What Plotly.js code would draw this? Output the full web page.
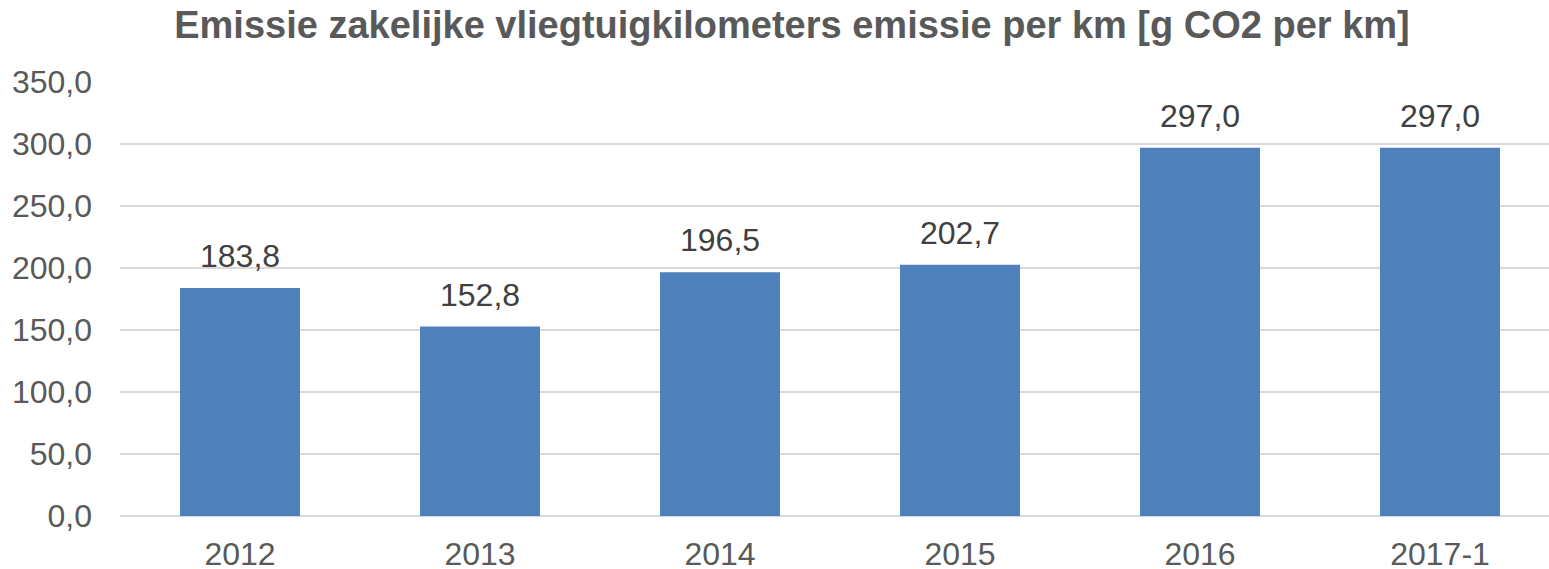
<!DOCTYPE html>
<html>
<head>
<meta charset="utf-8">
<script src="https://cdn.plot.ly/plotly-3.0.1.min.js"></script>
<style>html,body{margin:0;padding:0;background:#fff;}#chart{width:1549px;height:569px;}</style>
</head>
<body>
<div id="chart"></div>
<script>
var categories = ['2012', '2013', '2014', '2015', '2016', '2017-1'];
var values = [183.8, 152.8, 196.5, 202.7, 297.0, 297.0];
var titleText = 'Emissie zakelijke vliegtuigkilometers emissie per km [g CO2 per km]';

var fontFam = 'Liberation Sans, Arial, sans-serif';

var trace = {
  type: 'bar',
  x: categories,
  y: values,
  width: 0.5,
  marker: {color: '#4F81BD', line: {width: 0}},
  hoverinfo: 'none'
};

// category axis position = index of the category
var annotations = categories.map(function (c, i) {
  return {
    x: i, y: values[i], xref: 'x', yref: 'y',
    text: values[i].toFixed(1).replace('.', ','),
    showarrow: false, yanchor: 'bottom', yshift: 12,
    font: {family: fontFam, size: 32, color: '#404040'}
  };
});

var layout = {
  width: 1549, height: 569,
  margin: {l: 120, r: 0, t: 82, b: 53},
  paper_bgcolor: '#ffffff', plot_bgcolor: '#ffffff',
  separators: ',.',
  showlegend: false,
  title: {
    text: '<b>' + titleText + '</b>',
    x: 792 / 1549, xanchor: 'center', xref: 'container',
    y: 1 - 25 / 569, yanchor: 'middle', yref: 'container',
    font: {family: fontFam, size: 38, color: '#595959'}
  },
  xaxis: {
    type: 'category',
    range: [-0.5, 5.5 - 11 / 240],
    showgrid: false, zeroline: false, showline: false,
    ticks: '', ticklabelstandoff: 16,
    tickfont: {family: fontFam, size: 32, color: '#595959'}
  },
  yaxis: {
    range: [0, 350], dtick: 50, tick0: 0,
    tickformat: '.1f',
    showgrid: true, gridcolor: '#D9D9D9', gridwidth: 1.5,
    zeroline: true, zerolinecolor: '#D9D9D9', zerolinewidth: 1.5,
    showline: false, ticks: '', ticklabelstandoff: 27,
    tickfont: {family: fontFam, size: 32, color: '#595959'}
  },
  annotations: annotations
};

Plotly.newPlot('chart', [trace], layout, {staticPlot: true, displayModeBar: false});
</script>
</body>
</html>
